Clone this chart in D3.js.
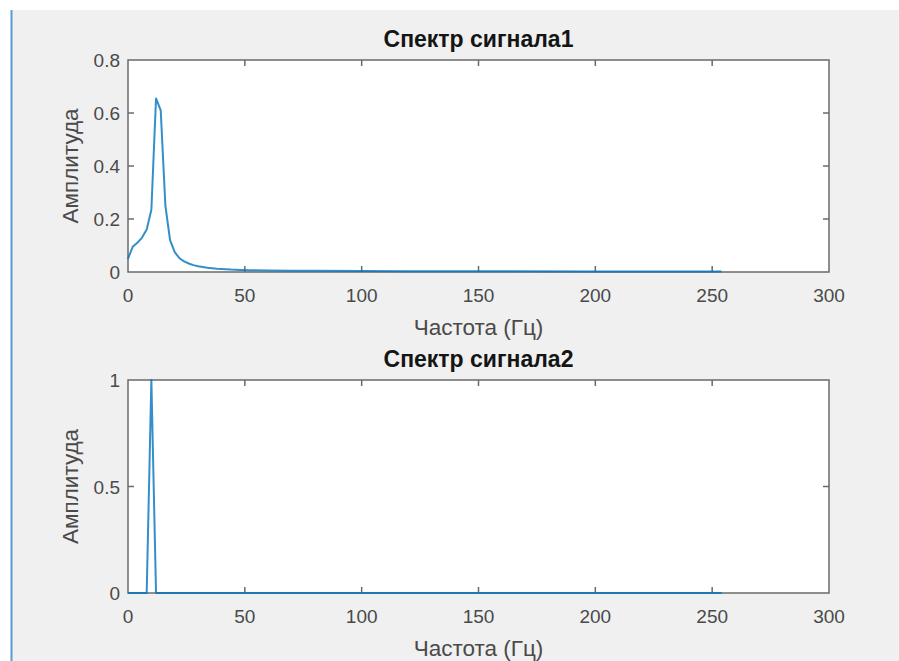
<!DOCTYPE html>
<html><head><meta charset="utf-8">
<script src="https://cdn.jsdelivr.net/npm/d3@7"></script>
<style>
html,body{margin:0;padding:0;background:#fff;}
svg{display:block;}
</style></head>
<body>
<script>
// ---- data ----
const freq1 = [0,2,4,6,8,10,12,14,16,18,20,22,24,26,28,30,32,34,36,38,40,44,48,52,60,70,80,100,120,150,200,254];
const amp1  = [0.05,0.095,0.11,0.13,0.16,0.235,0.655,0.61,0.25,0.12,0.075,0.052,0.04,0.032,0.026,0.022,0.019,0.016,0.014,0.012,0.011,0.009,0.008,0.007,0.006,0.005,0.0045,0.0035,0.003,0.0025,0.002,0.002];
const freq2 = [0,8,10,12,254];
const amp2  = [0,0,1,0,0];
const xTicks = [0,50,100,150,200,250,300];
const yTicks1 = [0,0.2,0.4,0.6,0.8];
const yTicks2 = [0,0.5,1];
const titles = ["Спектр сигнала1","Спектр сигнала2"];
const xLabel = "Частота (Гц)";
const yLabel = "Амплитуда";

const W = 899, H = 661;
const svg = d3.select("body").append("svg").attr("width",W).attr("height",H);
svg.append("rect").attr("x",0).attr("y",0).attr("width",W).attr("height",H).attr("fill","#fff");
svg.append("rect").attr("x",12).attr("y",10).attr("width",W-12).attr("height",H-10).attr("fill","#f0f0f0");
svg.append("line").attr("x1",11.5).attr("x2",11.5).attr("y1",10).attr("y2",H).attr("stroke","#5b9bd5").attr("stroke-width",2);

const FONT = "'Liberation Sans', Arial, Helvetica, sans-serif";
const panels = [
  {top:60, bottom:272, ymax:0.8, yt:yTicks1, yfmt:d=>d===0?"0":d3.format(".1f")(d), fx:freq1, fy:amp1, title:titles[0]},
  {top:380, bottom:593, ymax:1, yt:yTicks2, yfmt:d=>d===0?"0":(d===1?"1":"0.5"), fx:freq2, fy:amp2, title:titles[1]}
];
const left = 128, right = 829;
const axisColor = "#6a6a6a";
const tickFont = 19, labelFont = 22.5, titleFont = 23;
panels.forEach(p=>{
  const x = d3.scaleLinear().domain([0,300]).range([left,right]);
  const y = d3.scaleLinear().domain([0,p.ymax]).range([p.bottom,p.top]);
  const g = svg.append("g");
  g.append("rect").attr("x",left).attr("y",p.top).attr("width",right-left).attr("height",p.bottom-p.top)
    .attr("fill","#fff").attr("stroke",axisColor).attr("stroke-width",1.5);
  xTicks.forEach(t=>{
    const xx = x(t);
    if(t>0 && t<300){
      g.append("line").attr("x1",xx).attr("x2",xx).attr("y1",p.bottom).attr("y2",p.bottom-6).attr("stroke",axisColor).attr("stroke-width",1.5);
      g.append("line").attr("x1",xx).attr("x2",xx).attr("y1",p.top).attr("y2",p.top+6).attr("stroke",axisColor).attr("stroke-width",1.5);
    }
    g.append("text").attr("x",xx).attr("y",p.bottom+25).attr("text-anchor","middle").attr("dominant-baseline","middle")
      .attr("font-family",FONT).attr("font-size",tickFont).attr("fill","#4a4a4a").text(t);
  });
  p.yt.forEach(t=>{
    const yy = y(t);
    if(t>0 && t<p.ymax){
      g.append("line").attr("x1",left).attr("x2",left+6).attr("y1",yy).attr("y2",yy).attr("stroke",axisColor).attr("stroke-width",1.5);
      g.append("line").attr("x1",right).attr("x2",right-6).attr("y1",yy).attr("y2",yy).attr("stroke",axisColor).attr("stroke-width",1.5);
    }
    g.append("text").attr("x",left-8).attr("y",yy+2).attr("text-anchor","end").attr("dominant-baseline","middle")
      .attr("font-family",FONT).attr("font-size",tickFont).attr("fill","#4a4a4a").text(p.yfmt(t));
  });
  const line = d3.line().x((d,i)=>x(p.fx[i])).y(d=>y(d));
  g.append("path").datum(p.fy).attr("d",line).attr("fill","none").attr("stroke","#0072BD")
    .attr("stroke-width",2).attr("stroke-opacity",0.8).attr("stroke-linejoin","round");
  g.append("text").attr("x",(left+right)/2).attr("y",p.bottom+57).attr("text-anchor","middle").attr("dominant-baseline","middle")
    .attr("font-family",FONT).attr("font-size",labelFont).attr("fill","#4a4a4a").text(xLabel);
  g.append("text").attr("transform",`translate(72,${(p.top+p.bottom)/2}) rotate(-90)`).attr("text-anchor","middle").attr("dominant-baseline","middle")
    .attr("font-family",FONT).attr("font-size",labelFont).attr("fill","#4a4a4a").text(yLabel);
  g.append("text").attr("x",(left+right)/2).attr("y",p.top-19).attr("text-anchor","middle").attr("dominant-baseline","middle")
    .attr("font-family",FONT).attr("font-size",titleFont).attr("font-weight","bold").attr("fill","#151515").text(p.title);
});
</script>
</body></html>
